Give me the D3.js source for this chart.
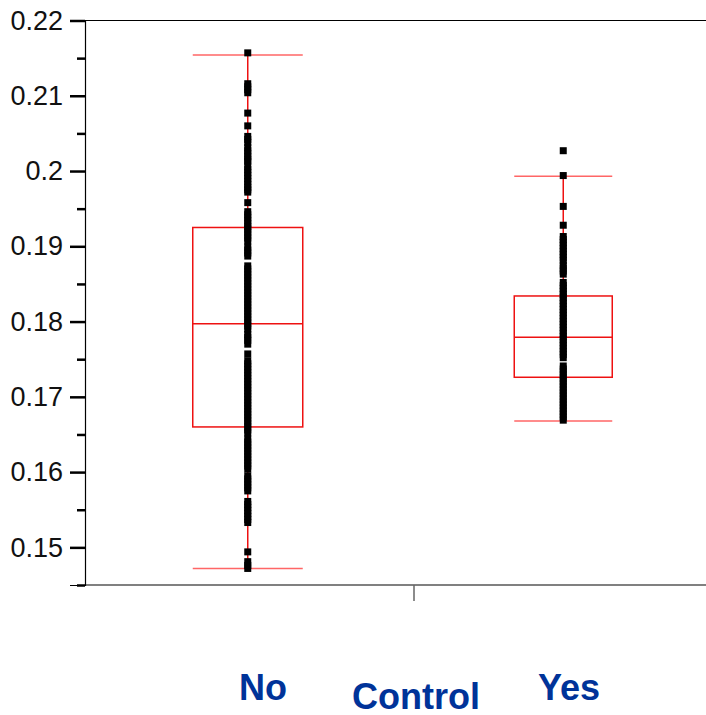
<meta charset="utf-8">
<script src="https://d3js.org/d3.v7.min.js"></script>
<style>
  body { margin: 0; background: #fff; }
  .ylab text { font: 27px "Liberation Sans", Arial, sans-serif; fill: #111; }
  .catlab { font: bold 36px "Liberation Sans", Arial, sans-serif; fill: #003399; }
</style>
<body>
<script>
  // categories and their summaries
  var categories = ['No', 'Yes'];
  var xLabels = ['No', 'Control', 'Yes'];
  var whiskerLow  = [0.1472, 0.1668];
  var q1          = [0.1660, 0.1726];
  var medians     = [0.1797, 0.1779];
  var q3          = [0.1925, 0.1834];
  var whiskerHigh = [0.2154, 0.1993];

  var pointsNo = [
    0.2157, 0.2116, 0.2112, 0.2108, 0.2104, 0.2077, 0.2060, 0.2046, 0.2042, 0.2038,
    0.2031, 0.2027, 0.2023, 0.2019, 0.2015, 0.2013, 0.2006, 0.2002, 0.1998, 0.1994,
    0.1990, 0.1986, 0.1982, 0.1978, 0.1975, 0.1972, 0.1958, 0.1946, 0.1942, 0.1938,
    0.1934, 0.1930, 0.1926, 0.1923, 0.1919, 0.1915, 0.1911, 0.1907, 0.1899, 0.1895,
    0.1891, 0.1887, 0.1874, 0.1870, 0.1866, 0.1862, 0.1858, 0.1854, 0.1850, 0.1846,
    0.1842, 0.1838, 0.1834, 0.1830, 0.1826, 0.1822, 0.1818, 0.1814, 0.1810, 0.1806,
    0.1802, 0.1798, 0.1794, 0.1790, 0.1783, 0.1779, 0.1775, 0.1770, 0.1757, 0.1748,
    0.1744, 0.1740, 0.1736, 0.1732, 0.1728, 0.1724, 0.1720, 0.1716, 0.1712, 0.1708,
    0.1704, 0.1700, 0.1696, 0.1692, 0.1688, 0.1684, 0.1680, 0.1676, 0.1672, 0.1668,
    0.1664, 0.1660, 0.1656, 0.1652, 0.1644, 0.1640, 0.1636, 0.1632, 0.1628, 0.1624,
    0.1620, 0.1616, 0.1612, 0.1608, 0.1604, 0.1595, 0.1591, 0.1587, 0.1583, 0.1579,
    0.1575, 0.1561, 0.1557, 0.1553, 0.1549, 0.1545, 0.1541, 0.1537, 0.1533, 0.1494,
    0.1481, 0.1476, 0.1472
  ];
  var pointsYes = [
    0.2027, 0.1994, 0.1953, 0.1928, 0.1913, 0.1909, 0.1905, 0.1901, 0.1897, 0.1893,
    0.1889, 0.1885, 0.1881, 0.1875, 0.1871, 0.1867, 0.1863, 0.1852, 0.1848, 0.1844,
    0.1840, 0.1836, 0.1832, 0.1828, 0.1824, 0.1820, 0.1816, 0.1812, 0.1808, 0.1804,
    0.1800, 0.1796, 0.1792, 0.1788, 0.1784, 0.1780, 0.1776, 0.1772, 0.1768, 0.1764,
    0.1760, 0.1756, 0.1752, 0.1741, 0.1737, 0.1733, 0.1729, 0.1725, 0.1721, 0.1717,
    0.1713, 0.1709, 0.1705, 0.1701, 0.1697, 0.1693, 0.1689, 0.1685, 0.1681, 0.1677,
    0.1673, 0.1669
  ];
  var points = [pointsNo, pointsYes];

  var majorTicks = [0.15, 0.16, 0.17, 0.18, 0.19, 0.2, 0.21, 0.22];
  var minorTicks = [0.145, 0.155, 0.165, 0.175, 0.185, 0.195, 0.205, 0.215];

  var plotLeft = 85, plotRight = 706, plotTop = 20.5, plotBottom = 585;
  var boxWidths = [110, 98];

  var svg = d3.select('body').append('svg')
    .attr('width', 706)
    .attr('height', 715);

  var y = d3.scaleLinear().domain([0.145, 0.22]).range([plotBottom, plotTop]);
  var x = d3.scaleBand().domain(categories).range([90, 721]);
  var xl = d3.scalePoint().domain(xLabels).range([263, 569]);

  // frame: top line, bottom axis, control tick
  svg.append('line')
    .attr('x1', plotLeft).attr('x2', plotRight).attr('y1', plotTop).attr('y2', plotTop)
    .attr('stroke', '#000').attr('stroke-width', 1.2);
  svg.append('line')
    .attr('x1', plotLeft).attr('x2', plotRight).attr('y1', plotBottom).attr('y2', plotBottom)
    .attr('stroke', '#808080').attr('stroke-width', 2);
  svg.append('line')
    .attr('x1', 414).attr('x2', 414).attr('y1', plotBottom).attr('y2', 601)
    .attr('stroke', '#666').attr('stroke-width', 1.5);

  // y axis
  var yAxis = svg.append('g')
    .attr('class', 'ylab')
    .attr('transform', 'translate(' + plotLeft + ',0)')
    .call(d3.axisLeft(y).tickValues(majorTicks).tickSize(15).tickPadding(7)
      .tickFormat(function(d){ return +d.toFixed(3); }));
  yAxis.select('.domain').attr('stroke', '#000').attr('stroke-width', 1.2);
  yAxis.selectAll('.tick line').attr('stroke', '#000').attr('stroke-width', 2.5);
  yAxis.selectAll('.tick text').style('font-size', '27px').attr('fill', '#111');

  var yMinor = svg.append('g')
    .attr('transform', 'translate(' + plotLeft + ',0)')
    .call(d3.axisLeft(y).tickValues(minorTicks).tickSize(8).tickFormat(''));
  yMinor.select('.domain').remove();
  yMinor.selectAll('.tick line').attr('stroke', '#000').attr('stroke-width', 2.5);

  // boxes
  var groups = svg.selectAll('g.box').data(categories)
    .enter()
    .append('g')
    .attr('class', 'box');

  var red = '#ee1111';
  groups.each(function(d, i){
    var g = d3.select(this);
    var cx = x(d) + x.bandwidth() / 2;
    var w = boxWidths[i];
    g.append('line')
      .attr('x1', cx).attr('x2', cx)
      .attr('y1', y(whiskerHigh[i])).attr('y2', y(q3[i]))
      .attr('stroke', red).attr('stroke-width', 1.5);
    g.append('line')
      .attr('x1', cx).attr('x2', cx)
      .attr('y1', y(q1[i])).attr('y2', y(whiskerLow[i]))
      .attr('stroke', red).attr('stroke-width', 1.5);
    g.append('rect')
      .attr('x', cx - w / 2).attr('y', y(q3[i]))
      .attr('width', w).attr('height', y(q1[i]) - y(q3[i]))
      .attr('fill', 'none').attr('stroke', red).attr('stroke-width', 1.5);
    g.append('line')
      .attr('x1', cx - w / 2).attr('x2', cx + w / 2)
      .attr('y1', y(medians[i])).attr('y2', y(medians[i]))
      .attr('stroke', red).attr('stroke-width', 1.5);
    [whiskerHigh[i], whiskerLow[i]].forEach(function(v){
      g.append('line')
        .attr('x1', cx - w / 2).attr('x2', cx + w / 2)
        .attr('y1', y(v)).attr('y2', y(v))
        .attr('stroke', '#f66').attr('stroke-width', 1.5);
    });
    g.selectAll('rect.pt').data(points[i])
      .enter()
      .append('rect')
      .attr('class', 'pt')
      .attr('x', cx - 3.5)
      .attr('y', function(v){ return y(v) - 3.5; })
      .attr('width', 7)
      .attr('height', 7)
      .attr('fill', '#000');
  });

  // category labels
  svg.selectAll('text.catlab').data(xLabels)
    .enter()
    .append('text')
    .attr('class', 'catlab')
    .attr('x', function(d){ return xl(d); })
    .attr('y', function(d){ return d === 'Control' ? 709 : 700; })
    .attr('text-anchor', 'middle')
    .text(function(d){ return d; });
</script>
</body>
